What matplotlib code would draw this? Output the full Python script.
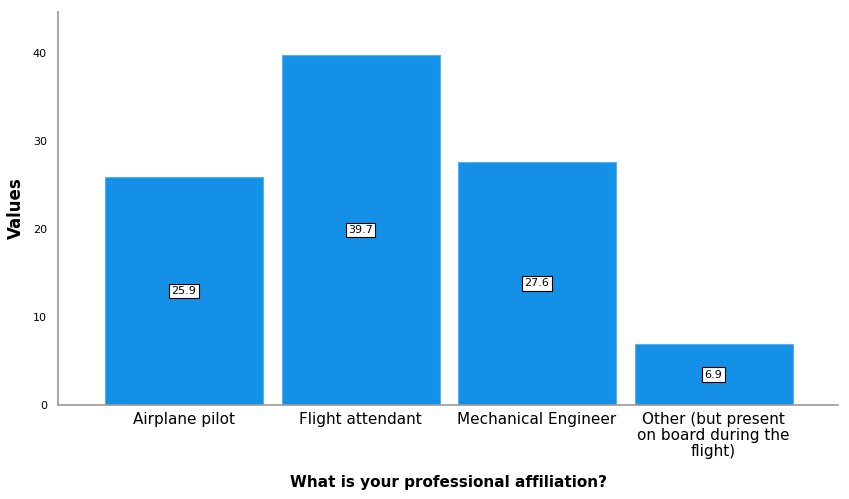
import matplotlib
matplotlib.use('Agg')
import matplotlib.pyplot as plt

categories = ["Airplane pilot", "Flight attendant", "Mechanical Engineer",
              "Other (but present\non board during the\nflight)"]
values = [25.9, 39.7, 27.6, 6.9]
yticks = [0, 10, 20, 30, 40]

plt.rcParams['font.family'] = ['DejaVu Sans']

fig = plt.figure(figsize=(8.49, 4.99), dpi=100)
ax = fig.add_axes([58/849, 1-405/499, 780/849, 393/499])

x = list(range(len(categories)))
ax.bar(x, values, width=0.895, color="#1491E6", edgecolor="#5AAEEC", linewidth=0.8)

for xi, v in zip(x, values):
    ax.text(xi, v/2, f"{v:.1f}", ha='center', va='center', fontsize=8,
            bbox=dict(boxstyle='square,pad=0.2', fc='white', ec='black', lw=0.8))

ax.set_xlim(-0.714, 3.705)
ax.set_ylim(0, 44.6)
ax.set_yticks(yticks)
ax.set_xticks(x)
ax.set_xticklabels(categories, fontsize=11, linespacing=1.1)
ax.tick_params(axis='both', length=0)
ax.tick_params(axis='y', labelsize=8, pad=8)
ax.tick_params(axis='x', pad=5)
for s in ['top', 'right']:
    ax.spines[s].set_visible(False)
for s in ['left', 'bottom']:
    ax.spines[s].set_color('#999999')
    ax.spines[s].set_linewidth(1.2)

ax.set_ylabel("Values", fontsize=12, fontweight='bold', va='center')
ax.yaxis.set_label_coords(-0.0545, 0.5)
ax.set_xlabel("What is your professional affiliation?", fontsize=11, fontweight='bold', va='center')
ax.xaxis.set_label_coords(0.5, -0.198)

fig.savefig("out.png", dpi=100)
